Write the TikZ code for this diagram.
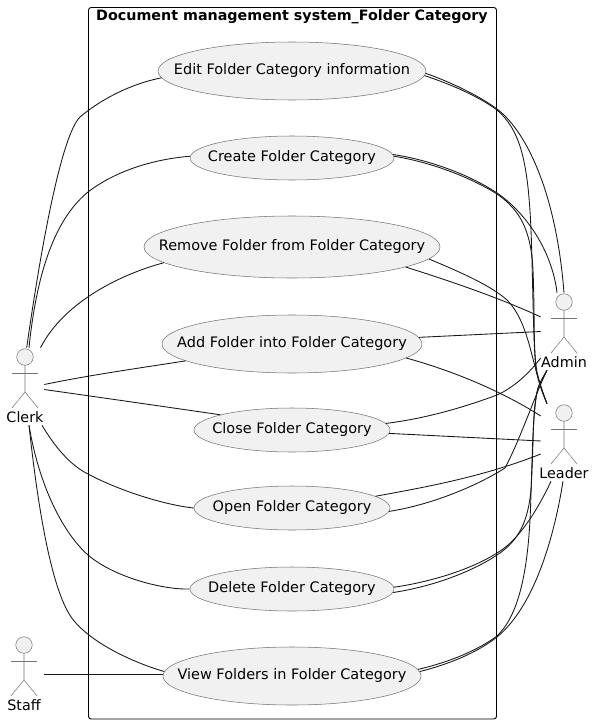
\documentclass[tikz,border=0pt]{standalone}
\usepackage{fontspec}
\setmainfont{DejaVu Sans}
\usetikzlibrary{calc,shapes.geometric}
\definecolor{ucfill}{HTML}{F1F1F1}
\definecolor{ucline}{HTML}{181818}
\tikzset{
	usecase/.style 2 args = {ellipse, draw = ucline!60, line width = 0.4pt, fill = ucfill, inner sep = 0pt, minimum width = #1*0.75pt, minimum height = #2*0.75pt},
	actorbox/.style = {rectangle, inner sep = 0pt, minimum width = #1*0.75pt, minimum height = 57.75pt},
	actorline/.style = {draw = ucline!60, line width = 0.4pt},
	link/.style = {draw = ucline, line width = 0.65pt},
	caption/.style = {inner sep = 0pt, font = \fontsize{10.75}{12}\selectfont},
}
\newcommand{\uctext}[1]{\makebox[0pt]{\raisebox{-0.5pt}{\fontsize{10.85}{12}\selectfont #1}}}
% name, head x, head y, box width, label
\newcommand{\umlactor}[5]{
	\node[actorbox = #4] (#1) at (#2,#3+29.5) {};
	\draw[actorline, fill = ucfill] (#2,#3) circle [radius = 6.2pt];
	\draw[actorline] (#2-13,#3+16) -- (#2+13,#3+16);
	\draw[actorline] (#2,#3+8) -- (#2,#3+35) -- (#2-13,#3+51);
	\draw[actorline] (#2,#3+35) -- (#2+13,#3+51);
	\node[caption] (#1label) at (#2,#3+60) {#5};
}
\begin{document}
\begin{tikzpicture}[x = 0.75pt, y = -0.75pt]
		\useasboundingbox (0,0) rectangle (595,724);
		
		% system box
		\draw[color = black, line width = 0.7pt, rounded corners = 2pt] (88.5,7.5) rectangle (496.5,719);
		\node[caption, font = \fontsize{10.72}{12}\selectfont\bfseries] (title) at (292,17) {Document management system\_Folder Category};
		
		% use cases
		\node[usecase = {268}{58}] (edit) at (292,71) {\uctext{Edit Folder Category information}};
		\node[usecase = {204}{44}] (create) at (292,158) {\uctext{Create Folder Category}};
		\node[usecase = {296}{62}] (remove) at (292,247) {\uctext{Remove Folder from Folder Category}};
		\node[usecase = {260}{58}] (add) at (292,344) {\uctext{Add Folder into Folder Category}};
		\node[usecase = {196}{44}] (close) at (292,430) {\uctext{Close Folder Category}};
		\node[usecase = {196}{44}] (open) at (292,508) {\uctext{Open Folder Category}};
		\node[usecase = {204}{44}] (delete) at (292,589) {\uctext{Delete Folder Category}};
		\node[usecase = {258}{58}] (view) at (292,676) {\uctext{View Folders in Folder Category}};
		
		% actors
		\umlactor{clerk}{25}{357}{38}{Clerk}
		\umlactor{staff}{24}{645}{40}{Staff}
		\umlactor{admin}{564}{302}{46}{Admin}
		\umlactor{leader}{564}{413}{46}{Leader}
		
		% clerk
		\draw[link] ($(clerk.north)+(1.7,0)$) .. controls (42,240) and (62,135) .. (80,117) .. controls (100,100) and (130,84) .. (edit.183);
		\draw[link] ($(clerk.north)+(4,0)$) .. controls (38,260) and (60,215) .. (88,192) .. controls (110,175) and (145,160) .. (create.179);
		\draw[link] ($(clerk.north)+(15.5,0)$) .. controls (65,300) and (125,273) .. (remove.187);
		\draw[link] (clerk.east) ++(0,-2) .. controls (90,375) and (140,368) .. (add.189);
		\draw[link] (clerk.east) ++(0,3) .. controls (90,396) and (160,406) .. (close.168);
		\draw[link] ($(clerk.south)+(17,0)$) .. controls (55,447) and (70,465) .. (88,474) .. controls (120,491) and (165,505) .. (open.180);
		\draw[link] ($(clerk.south)+(4,0)$) .. controls (38,480) and (60,530) .. (88,555) .. controls (115,578) and (165,590) .. (delete.180);
		\draw[link] ($(clerk.south)+(4,0)$) .. controls (36,490) and (50,595) .. (75,622) .. controls (95,645) and (135,663) .. (view.178);
		
		% staff
		\draw[link] (staff.east) -- (staff.east -| view.west);
		
		% admin
		\draw[link] (edit.-1) .. controls (450,82) and (478,95) .. (497,109) .. controls (525,130) and (556,190) .. (admin.north);
		\draw[link] (create.2) .. controls (430,160) and (470,175) .. (497,193) .. controls (525,212) and (552,250) .. ($(admin.north)+(-7,0)$);
		\draw[link] (remove.-10) .. controls (450,281) and (500,298) .. ($(admin.west)+(0,-14.5)$);
		\draw[link] (add.3) -- (admin.west);
		\draw[link] (close.4) .. controls (430,418) and (470,405) .. (497,395) .. controls (515,387) and (530,372) .. ($(admin.west)+(0,26.5)$);
		\draw[link] (open.-2) .. controls (430,505) and (475,487) .. (505,468) .. controls (520,440) and (535,395) .. ($(admin.south)+(-17,0)$);
		\draw[link] (delete.-2) .. controls (430,587) and (470,573) .. (497,555) .. controls (520,540) and (528,520) .. (531,490) .. controls (534,440) and (532,410) .. (538,388) .. controls (541,380) and (544,376) .. ($(admin.south)+(-17,0)$);
		\draw[link] (view.3) .. controls (450,662) and (478,650) .. (497,636) .. controls (518,616) and (527,575) .. (530,520) .. controls (532,480) and (532,410) .. (538,388) .. controls (541,380) and (544,376) .. ($(admin.south)+(-17,0)$);
		
		% leader
		\draw[link] (edit.-2) .. controls (450,84) and (478,96) .. (497,110) .. controls (520,130) and (528,160) .. (531,230) .. controls (533,280) and (533,340) .. (536,370) .. controls (538,380) and (542,392) .. ($(leader.north)+(-17,0)$);
		\draw[link] (create.1) .. controls (430,162) and (470,177) .. (497,194) .. controls (520,210) and (531,230) .. (533,270) .. controls (535,320) and (533,350) .. (537,372) .. controls (541,390) and (544,396) .. ($(leader.north)+(-17,0)$);
		\draw[link] (remove.-5) .. controls (460,272) and (490,285) .. (507,300) .. controls (522,315) and (528,340) .. (532,355) .. controls (537,375) and (542,390) .. ($(leader.north)+(-17,0)$);
		\draw[link] (add.-7) .. controls (450,370) and (500,390) .. ($(leader.west)+(0,-26.5)$);
		\draw[link] (close.-2) -- ($(leader.west)+(0,-1.5)$);
		\draw[link] (open.8) .. controls (420,488) and (480,478) .. ($(leader.west)+(0,11.5)$);
		\draw[link] (delete.1) .. controls (430,582) and (470,570) .. (497,553) .. controls (520,540) and (540,505) .. ($(leader.south)+(-13,0)$);
		\draw[link] (view.2) .. controls (450,664) and (478,652) .. (497,637) .. controls (530,610) and (552,550) .. ($(leader.south)+(-1,0)$);
		
	\end{tikzpicture}
\end{document}
